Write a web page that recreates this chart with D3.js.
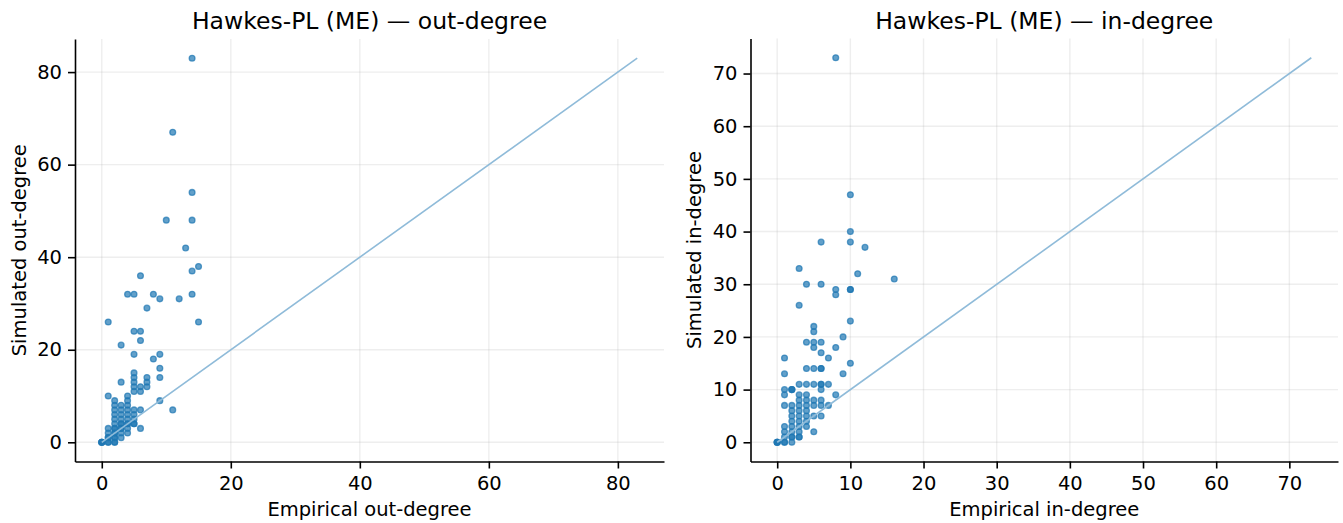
<!DOCTYPE html>
<html>
<head>
<meta charset="utf-8">
<script src="https://cdn.jsdelivr.net/npm/d3@7"></script>
<style>
  body { margin: 0; background: #fff; }
  svg text { font-family: "DejaVu Sans", sans-serif; fill: #000; }
</style>
</head>
<body>
<div id="container"></div>
<script>
// out-degree panel: empirical vs simulated (one entry per node)
var empOut = [0,0,0,0,
    1,1,1,1,1,1,1,1,
    2,2,2,2,2,2,2,2,2,2,2,2,2,2,
    3,3,3,3,3,3,3,3,3,3,3,3,
    4,4,4,4,4,4,4,4,4,4,4,
    5,5,5,5,5,5,5,5,5,5,5,5,5,
    6,6,6,6,6,6,6,
    7,7,7,7,
    8,8,
    9,9,9,9,9,
    10,
    11,11,
    12,
    13,
    14,14,14,14,14,
    15,15];
var simOut = [0,0,0,0,
    0,0,1,1,2,3,10,26,
    0,0,1,1,2,2,3,3,4,5,6,7,8,9,
    1,2,3,3,4,4,5,6,7,8,13,21,
    2,3,4,4,5,6,7,8,9,10,32,
    4,4,5,6,7,11,12,13,14,15,19,24,32,
    3,7,11,12,22,24,36,
    12,13,14,29,
    18,32,
    9,14,16,19,31,
    48,
    7,67,
    31,
    42,
    32,37,48,54,83,
    26,38];

// in-degree panel
var empIn = [0,0,0,0,
    1,1,1,1,1,1,1,1,1,1,
    2,2,2,2,2,2,2,2,2,2,2,2,
    3,3,3,3,3,3,3,3,3,3,3,3,3,
    4,4,4,4,4,4,4,4,4,4,4,
    5,5,5,5,5,5,5,5,5,5,
    6,6,6,6,6,6,6,6,6,6,6,6,
    7,7,7,
    8,8,8,8,8,
    9,9,
    10,10,10,10,10,10,10,
    11,
    12,
    16];
var simIn = [0,0,0,0,
    0,0,1,2,3,7,9,10,13,16,
    0,1,1,2,3,4,5,6,7,10,10,10,
    1,1,2,3,4,5,6,7,8,9,11,26,33,
    3,4,5,6,7,8,9,11,14,19,30,
    2,5,7,8,11,14,18,19,21,22,
    5,7,8,10,11,11,14,14,17,19,30,38,
    7,11,16,
    9,18,28,29,73,
    13,20,
    15,23,29,29,38,40,47,
    32,
    37,
    31];

var outTicks = [0,20,40,60,80];
var inTicks = [0,10,20,30,40,50,60,70];

var width = 1343;
var height = 523;
var dotColor = '#1f77b4';
var lineColor = '#8fbbd9';

function drawPanel(svg, opts){
    var maxV = d3.max(opts.xs.concat(opts.ys));
    var pad = maxV * 0.05;
    var x = d3.scaleLinear().domain([-pad, maxV + pad]).range([opts.left, opts.right]);
    var y = d3.scaleLinear().domain([-pad, maxV + pad]).range([opts.bottom, opts.top]);
    let g = svg.append('g');

    // grid
    g.append('g').selectAll('line').data(opts.ticks).enter().append('line')
        .attr('x1', d => x(d)).attr('x2', d => x(d))
        .attr('y1', opts.top).attr('y2', opts.bottom)
        .attr('stroke', '#b0b0b0').attr('stroke-opacity', 0.22).attr('stroke-width', 1.4);
    g.append('g').selectAll('line').data(opts.ticks).enter().append('line')
        .attr('y1', d => y(d)).attr('y2', d => y(d))
        .attr('x1', opts.left).attr('x2', opts.right)
        .attr('stroke', '#b0b0b0').attr('stroke-opacity', 0.22).attr('stroke-width', 1.4);

    // points
    g.append('g').selectAll('circle').data(opts.xs).enter().append('circle')
        .attr('cx', (d, i) => x(d))
        .attr('cy', (d, i) => y(opts.ys[i]))
        .attr('r', 2.9)
        .attr('fill', dotColor).attr('fill-opacity', 0.7)
        .attr('stroke', dotColor).attr('stroke-opacity', 0.7).attr('stroke-width', 1.3);

    // y = x reference
    g.append('line')
        .attr('x1', x(0)).attr('y1', y(0))
        .attr('x2', x(maxV)).attr('y2', y(maxV))
        .attr('stroke', lineColor).attr('stroke-width', 1.6);

    // axes
    let xAxis = g.append('g').attr('transform', 'translate(0,' + opts.bottom + ')')
        .call(d3.axisBottom(x).tickValues(opts.ticks).tickSize(7).tickPadding(6).tickSizeOuter(0));
    let yAxis = g.append('g').attr('transform', 'translate(' + opts.left + ',0)')
        .call(d3.axisLeft(y).tickValues(opts.ticks).tickSize(7).tickPadding(6).tickSizeOuter(0));
    [xAxis, yAxis].forEach(function(a){
        a.selectAll('text').style('font-size', '19.5px').attr('fill', '#000');
        a.selectAll('line').attr('stroke', '#000').attr('stroke-width', 1.6);
        a.select('.domain').attr('stroke', '#000').attr('stroke-width', 1.6);
    });
    xAxis.selectAll('text').attr('dy', '0.8em');

    // labels
    g.append('text')
        .attr('x', (opts.left + opts.right) / 2).attr('y', 28.5)
        .attr('text-anchor', 'middle').style('font-size', '23.5px')
        .text(opts.title);
    g.append('text')
        .attr('x', (opts.left + opts.right) / 2).attr('y', 516)
        .attr('text-anchor', 'middle').style('font-size', '19.5px')
        .text(opts.xlabel);
    g.append('text')
        .attr('transform', 'translate(' + opts.ylabelX + ',' + ((opts.top + opts.bottom) / 2) + ') rotate(-90)')
        .attr('text-anchor', 'middle').style('font-size', '19.5px')
        .text(opts.ylabel);
}

let svg = d3.select('#container').append('svg')
    .attr('width', width).attr('height', height);

drawPanel(svg, {
    xs: empOut, ys: simOut, ticks: outTicks,
    left: 75, right: 664, top: 39, bottom: 461.5,
    ylabelX: 26,
    title: 'Hawkes-PL (ME) — out-degree',
    xlabel: 'Empirical out-degree',
    ylabel: 'Simulated out-degree'
});

drawPanel(svg, {
    xs: empIn, ys: simIn, ticks: inTicks,
    left: 750.5, right: 1338, top: 38.5, bottom: 461.5,
    ylabelX: 701,
    title: 'Hawkes-PL (ME) — in-degree',
    xlabel: 'Empirical in-degree',
    ylabel: 'Simulated in-degree'
});
</script>
</body>
</html>
